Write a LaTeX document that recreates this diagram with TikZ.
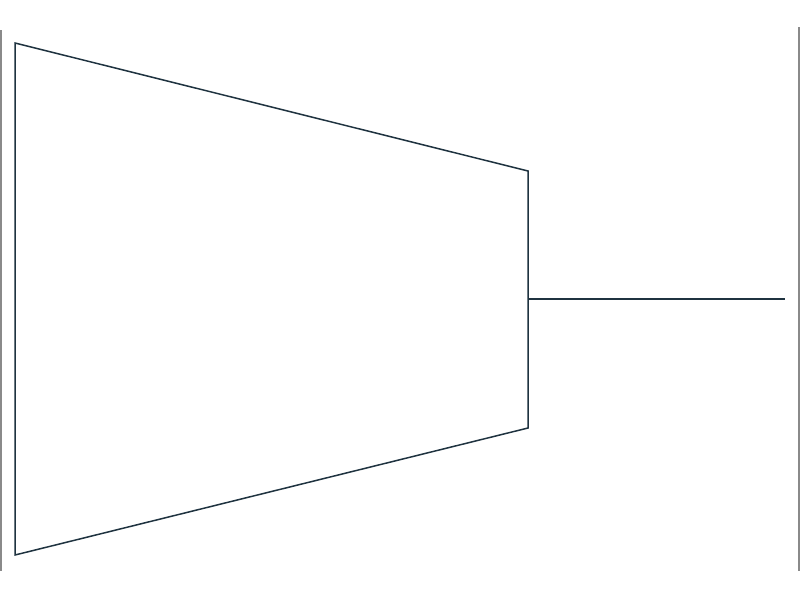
\documentclass[tikz,border=0pt]{standalone}
\definecolor{navy}{HTML}{1F3340}
\definecolor{edgegray}{HTML}{8A8A8A}
\begin{document}
\begin{tikzpicture}[x=1pt,y=-1pt,
  shape line/.style={draw=navy,line width=1.5pt,line join=miter},
  side line/.style={draw=edgegray,line width=1.2pt}]
\useasboundingbox (0,0) rectangle (800,600);
\coordinate (tl) at (15,43);
\coordinate (tr) at (528,171);
\coordinate (br) at (528,428);
\coordinate (bl) at (15,555);
\coordinate (mid) at (528,299);
\coordinate (out) at (785,299);
\draw[shape line] (tl) -- (tr) -- (br) -- (bl) -- cycle;
\draw[shape line] (mid) -- (out);
\draw[side line] (1,30) -- (1,571);
\draw[side line] (799,27) -- (799,571);
\end{tikzpicture}
\end{document}
